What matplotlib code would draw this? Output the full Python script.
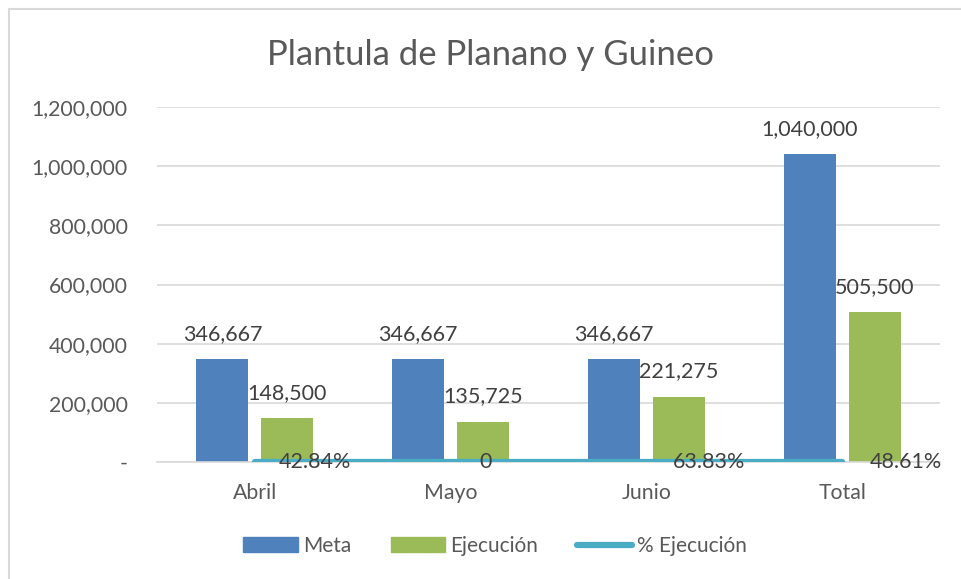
import matplotlib
matplotlib.use("Agg")
import matplotlib.pyplot as plt
import numpy as np
from matplotlib.lines import Line2D
from matplotlib.patches import Patch

categories = ["Abril", "Mayo", "Junio", "Total"]
meta = [346667, 346667, 346667, 1040000]
ejecucion = [148500, 135725, 221275, 505500]
pct_ejecucion = [0.4284, 0.0, 0.6383, 0.4861]
pct_labels = ["42.84%", "0", "63.83%", "48.61%"]
yticks = [0, 200000, 400000, 600000, 800000, 1000000, 1200000]

plt.rcParams['font.family'] = ['Lato', 'DejaVu Sans']

W, H = 961, 579
fig = plt.figure(figsize=(W / 100, H / 100), dpi=100)
ax = fig.add_axes([157 / W, 1 - 462 / H, (940 - 157) / W, (462 - 107) / H])

x = np.arange(len(categories))
bw = 52 / 196
off = 32.5 / 196
blue = "#4F81BD"
green = "#9BBB59"
teal = "#4BACC6"

ax.bar(x - off, meta, bw, color=blue, zorder=2)
ax.bar(x + off, ejecucion, bw, color=green, zorder=2)
ax.plot(x, pct_ejecucion, color=teal, lw=4.5, solid_capstyle='round', zorder=3)

lab_col = "#404040"
fs = 15.5
for xi, v in zip(x, meta):
    ax.annotate(f"{v:,}", (xi - off, v), xytext=(0, 11), textcoords="offset points",
                ha="center", va="bottom", fontsize=fs, color=lab_col)
for xi, v in zip(x, ejecucion):
    ax.annotate(f"{v:,}", (xi + off, v), xytext=(0, 11), textcoords="offset points",
                ha="center", va="bottom", fontsize=fs, color=lab_col)
pct_dx = [17, 21, 19, 20]
for xi, v, t, dx in zip(x, pct_ejecucion, pct_labels, pct_dx):
    ax.annotate(t, (xi, v), xytext=(dx, 0), textcoords="offset points",
                ha="left", va="center", fontsize=fs, color=lab_col, zorder=4)

ax.set_xlim(-0.5, 3.5)
ax.set_ylim(0, 1200000)
ax.set_yticks(yticks)
ax.set_yticklabels(["-" if v == 0 else f"{v:,}" for v in yticks])
ax.set_xticks(x)
ax.set_xticklabels(categories)
ax.tick_params(axis='both', length=0, labelsize=15.3, colors="#595959")
ax.tick_params(axis='y', pad=21)
ax.tick_params(axis='x', pad=15)
ax.grid(axis='y', color="#D9D9D9", lw=1.2, zorder=0)
ax.set_axisbelow(True)
for s in ["top", "right", "left"]:
    ax.spines[s].set_visible(False)
ax.spines["bottom"].set_color("#D9D9D9")
ax.spines["bottom"].set_linewidth(1.2)

fig.text(490 / W, 1 - 55 / H, "Plantula de Planano y Guineo", ha="center", va="center",
         fontsize=25, color="#595959")

handles = [Patch(color=blue, label="Meta"), Patch(color=green, label="Ejecución"),
           Line2D([0], [0], color=teal, lw=4.5, solid_capstyle='round', label="% Ejecución")]
fig.legend(handles=handles, loc="center", bbox_to_anchor=(495 / W, 1 - 546 / H), ncol=3,
           frameon=False, fontsize=15, labelcolor="#595959", handlelength=2.6,
           handleheight=0.75, handletextpad=0.25, columnspacing=1.9)

# chart-area border (top and left visible)
fig.add_artist(Line2D([8.5 / W, 8.5 / W], [0, 1 - 8.5 / H], transform=fig.transFigure,
                      color="#D9D9D9", lw=1.5))
fig.add_artist(Line2D([8.5 / W, 1], [1 - 8.5 / H, 1 - 8.5 / H], transform=fig.transFigure,
                      color="#D9D9D9", lw=1.5))

fig.savefig("out.png", dpi=100, facecolor="white")
